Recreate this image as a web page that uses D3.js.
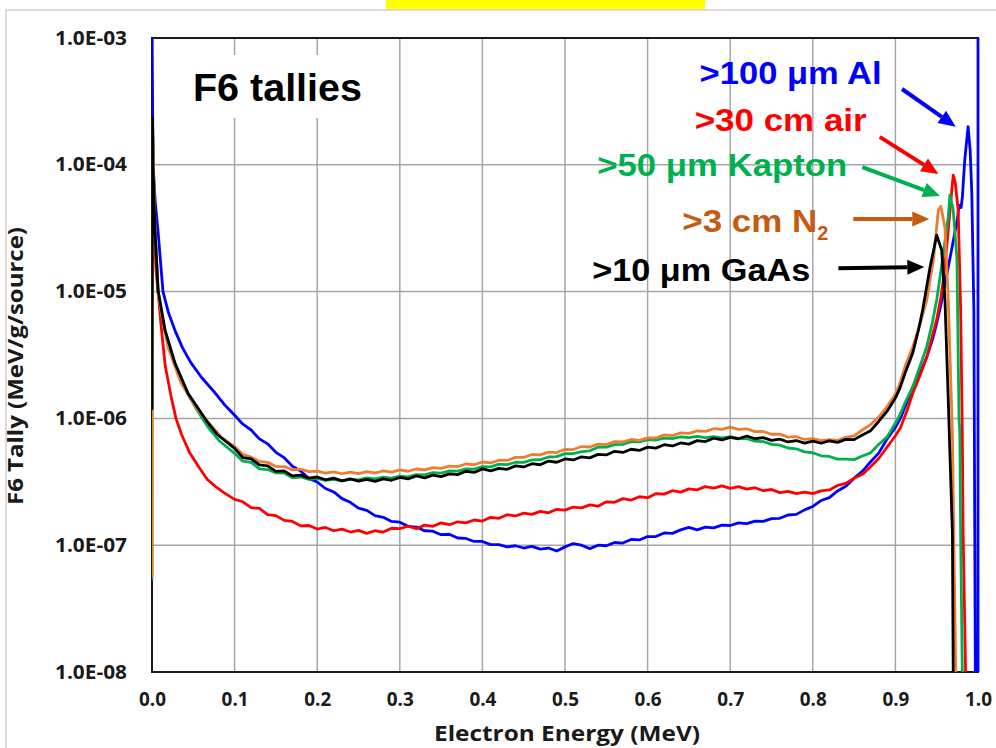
<!DOCTYPE html>
<html>
<head>
<meta charset="utf-8">
<script src="https://cdn.jsdelivr.net/npm/d3@7"></script>
<style>
  html, body { margin: 0; padding: 0; background: #ffffff; }
  svg { display: block; }
</style>
</head>
<body>
<svg id="chart" width="996" height="748"></svg>
<script>
// ---------------- DATA ----------------
const energyTicks = [0.0, 0.1, 0.2, 0.3, 0.4, 0.5, 0.6, 0.7, 0.8, 0.9, 1.0];
const energyTickLabels = ["0.0","0.1","0.2","0.3","0.4","0.5","0.6","0.7","0.8","0.9","1.0"];
const tallyTicks = [1e-3, 1e-4, 1e-5, 1e-6, 1e-7, 1e-8];
const tallyTickLabels = ["1.0E-03","1.0E-04","1.0E-05","1.0E-06","1.0E-07","1.0E-08"];

const seriesNames = [">100 \u03bcm Al", ">30 cm air", ">50 \u03bcm Kapton", ">3 cm N", ">10 \u03bcm GaAs"];

// [energy MeV, F6 tally MeV/g/source]
const alData = [[0,1.5e-3],[0.0012,1.0e-4],[0.004,5.0e-5],[0.0073,3.0e-5],[0.0133,1.0e-5],[0.02,6.8e-6],[0.028,4.9e-6],[0.037,3.6e-6],[0.047,2.75e-6],[0.06,2.1e-6],[0.076,1.6e-6],[0.087,1.3e-6],
[0.10,1.06e-6],[0.11,9.0e-7],[0.12,8.1e-7],[0.13,6.9e-7],[0.14,6.3e-7],[0.15,5.4e-7],[0.16,4.9e-7],[0.17,4.2e-7],[0.18,3.85e-7],[0.19,3.35e-7],[0.20,3.15e-7],[0.21,2.8e-7],[0.22,2.63e-7],[0.23,2.33e-7],[0.24,2.18e-7],[0.25,1.96e-7],[0.26,1.88e-7],[0.27,1.71e-7],[0.28,1.66e-7],[0.29,1.54e-7],[0.30,1.52e-7],[0.31,1.41e-7],[0.32,1.39e-7],[0.33,1.3e-7],[0.34,1.29e-7],[0.35,1.21e-7],[0.36,1.22e-7],[0.37,1.14e-7],[0.38,1.13e-7],[0.39,1.07e-7],[0.40,1.07e-7],[0.41,1.01e-7],[0.42,1.01e-7],[0.43,9.7e-8],[0.44,9.9e-8],[0.45,9.5e-8],[0.46,9.8e-8],[0.47,9.3e-8],[0.48,9.5e-8],[0.49,9.0e-8],[0.50,9.7e-8],[0.51,1.03e-7],[0.52,1.0e-7],[0.53,9.4e-8],[0.54,1.0e-7],[0.55,9.9e-8],[0.56,1.05e-7],[0.57,1.04e-7],[0.58,1.11e-7],[0.59,1.1e-7],[0.60,1.17e-7],[0.61,1.17e-7],[0.62,1.25e-7],[0.63,1.24e-7],[0.64,1.32e-7],[0.65,1.38e-7],[0.66,1.32e-7],[0.67,1.39e-7],[0.68,1.37e-7],[0.69,1.44e-7],[0.70,1.43e-7],[0.71,1.5e-7],[0.72,1.48e-7],[0.73,1.55e-7],[0.74,1.54e-7],[0.75,1.62e-7],[0.76,1.63e-7],[0.77,1.73e-7],[0.78,1.75e-7],[0.79,1.9e-7],[0.80,2.02e-7],[0.81,2.25e-7],[0.82,2.37e-7],[0.83,2.68e-7],[0.84,2.92e-7],[0.85,3.38e-7],[0.86,3.82e-7],[0.87,4.55e-7],[0.88,5.35e-7],[0.89,6.9e-7],[0.90,8.5e-7],
[0.906,1.0e-6],[0.914,1.35e-6],[0.921,1.77e-6],[0.93,2.3e-6],[0.938,3.05e-6],[0.945,4.2e-6],[0.950,5.65e-6],[0.955,7.8e-6],[0.958,9.8e-6],[0.964,1.56e-5],[0.97,2.5e-5],[0.975,3.7e-5],[0.977,4.8e-5],[0.9795,4.6e-5],[0.981,5.5e-5],[0.984,1.1e-4],[0.988,2.0e-4],[0.9905,1.3e-4],[0.9925,6e-5],[0.995,7e-6],[0.997,4e-9],[1.0,4e-9],[1.0,1.5e-3]];

const airData = [[0.0006,2.0e-4],[0.0024,4e-5],[0.0048,1.5e-5],[0.0109,5.5e-6],[0.016,2.6e-6],[0.023,1.5e-6],[0.029,1.0e-6],[0.036,7.4e-7],[0.046,5.3e-7],[0.057,4.1e-7],[0.067,3.3e-7],[0.077,2.9e-7],[0.087,2.6e-7],
[0.10,2.3e-7],[0.11,2.2e-7],[0.12,1.98e-7],[0.13,1.95e-7],[0.14,1.74e-7],[0.15,1.71e-7],[0.16,1.57e-7],[0.17,1.54e-7],[0.18,1.42e-7],[0.19,1.43e-7],[0.20,1.34e-7],[0.21,1.38e-7],[0.22,1.3e-7],[0.23,1.34e-7],[0.24,1.27e-7],[0.25,1.31e-7],[0.26,1.24e-7],[0.27,1.3e-7],[0.28,1.27e-7],[0.29,1.36e-7],[0.30,1.35e-7],[0.31,1.41e-7],[0.32,1.35e-7],[0.33,1.44e-7],[0.34,1.41e-7],[0.35,1.5e-7],[0.36,1.45e-7],[0.37,1.53e-7],[0.38,1.5e-7],[0.39,1.58e-7],[0.40,1.55e-7],[0.41,1.66e-7],[0.42,1.63e-7],[0.43,1.74e-7],[0.44,1.7e-7],[0.45,1.79e-7],[0.46,1.75e-7],[0.47,1.85e-7],[0.48,1.8e-7],[0.49,1.92e-7],[0.50,1.89e-7],[0.51,2.0e-7],[0.52,1.97e-7],[0.53,2.08e-7],[0.54,2.03e-7],[0.55,2.2e-7],[0.56,2.18e-7],[0.57,2.33e-7],[0.58,2.27e-7],[0.59,2.41e-7],[0.60,2.37e-7],[0.61,2.55e-7],[0.62,2.53e-7],[0.63,2.69e-7],[0.64,2.62e-7],[0.65,2.78e-7],[0.66,2.73e-7],[0.67,2.9e-7],[0.68,2.82e-7],[0.69,2.94e-7],[0.70,2.81e-7],[0.71,2.9e-7],[0.72,2.77e-7],[0.73,2.84e-7],[0.74,2.69e-7],[0.75,2.75e-7],[0.76,2.6e-7],[0.77,2.66e-7],[0.78,2.55e-7],[0.79,2.62e-7],[0.80,2.55e-7],[0.81,2.68e-7],[0.82,2.73e-7],[0.83,2.96e-7],[0.84,3.07e-7],[0.85,3.37e-7],[0.86,3.62e-7],[0.87,4.15e-7],[0.88,4.85e-7],[0.89,5.95e-7],[0.90,7.3e-7],
[0.906,8.4e-7],[0.914,1.15e-6],[0.921,1.58e-6],[0.93,2.2e-6],[0.938,3.05e-6],[0.944,4.3e-6],[0.950,6.0e-6],[0.955,9e-6],[0.958,1.23e-5],[0.962,2.2e-5],[0.965,3.6e-5],[0.968,6.0e-5],[0.970,8.3e-5],[0.9725,7.2e-5],[0.976,4.4e-5],[0.979,7.2e-6],[0.981,7.7e-7],[0.982,1.25e-7],[0.985,1e-8],[0.986,4e-9]];

const kaptonData = [[0,5.3e-8],[0.0006,2.1e-4],[0.0018,9.5e-5],[0.0036,3.1e-5],[0.0073,1.0e-5],[0.0157,4.9e-6],[0.0278,2.7e-6],[0.0436,1.55e-6],[0.055,1.15e-6],[0.068,8.5e-7],[0.082,6.6e-7],
[0.10,5.3e-7],[0.11,4.6e-7],[0.12,4.5e-7],[0.13,4.0e-7],[0.14,3.95e-7],[0.15,3.72e-7],[0.16,3.7e-7],[0.17,3.4e-7],[0.18,3.45e-7],[0.19,3.3e-7],[0.20,3.37e-7],[0.21,3.24e-7],[0.22,3.31e-7],[0.23,3.22e-7],[0.24,3.31e-7],[0.25,3.27e-7],[0.26,3.4e-7],[0.27,3.33e-7],[0.28,3.44e-7],[0.29,3.38e-7],[0.30,3.5e-7],[0.31,3.46e-7],[0.32,3.6e-7],[0.33,3.58e-7],[0.34,3.73e-7],[0.35,3.7e-7],[0.36,3.85e-7],[0.37,3.84e-7],[0.38,4.0e-7],[0.39,3.98e-7],[0.40,4.16e-7],[0.41,4.15e-7],[0.42,4.36e-7],[0.43,4.32e-7],[0.44,4.51e-7],[0.45,4.5e-7],[0.46,4.71e-7],[0.47,4.72e-7],[0.48,4.96e-7],[0.49,5.0e-7],[0.50,5.28e-7],[0.51,5.27e-7],[0.52,5.47e-7],[0.53,5.55e-7],[0.54,5.92e-7],[0.55,5.94e-7],[0.56,6.22e-7],[0.57,6.24e-7],[0.58,6.55e-7],[0.59,6.53e-7],[0.60,6.8e-7],[0.61,6.75e-7],[0.62,7.0e-7],[0.63,6.93e-7],[0.64,7.16e-7],[0.65,7.05e-7],[0.66,7.23e-7],[0.67,7.06e-7],[0.68,7.18e-7],[0.69,7.03e-7],[0.70,7.18e-7],[0.71,6.93e-7],[0.72,6.92e-7],[0.73,6.61e-7],[0.74,6.57e-7],[0.75,6.24e-7],[0.76,6.16e-7],[0.77,5.84e-7],[0.78,5.76e-7],[0.79,5.44e-7],[0.80,5.36e-7],[0.81,5.07e-7],[0.82,5.01e-7],[0.83,4.77e-7],[0.84,4.77e-7],[0.85,4.73e-7],[0.86,5.05e-7],[0.87,5.35e-7],[0.88,6.25e-7],[0.89,7.15e-7],[0.90,9.2e-7],
[0.905,1.05e-6],[0.911,1.3e-6],[0.921,1.77e-6],[0.93,2.6e-6],[0.938,3.7e-6],[0.945,5.8e-6],[0.950,8.6e-6],[0.954,1.3e-5],[0.958,2.0e-5],[0.962,3.1e-5],[0.964,3.9e-5],[0.966,5.8e-5],[0.970,4.4e-5],[0.9745,1.8e-5],[0.977,1e-6],[0.978,7.7e-7],[0.979,1.2e-7],[0.981,1e-8],[0.983,4e-9]];

const n2Data = [[0,5.6e-8],[0.0006,2.2e-4],[0.0018,1.0e-4],[0.0036,3.2e-5],[0.0079,9.0e-6],[0.0194,3.66e-6],[0.0351,1.9e-6],[0.0557,1.16e-6],[0.0835,7.13e-7],
[0.10,6.0e-7],[0.11,5.2e-7],[0.12,4.95e-7],[0.13,4.58e-7],[0.14,4.5e-7],[0.15,4.18e-7],[0.16,4.17e-7],[0.17,3.93e-7],[0.18,3.98e-7],[0.19,3.8e-7],[0.20,3.84e-7],[0.21,3.7e-7],[0.22,3.78e-7],[0.23,3.66e-7],[0.24,3.77e-7],[0.25,3.67e-7],[0.26,3.8e-7],[0.27,3.71e-7],[0.28,3.85e-7],[0.29,3.77e-7],[0.30,3.92e-7],[0.31,3.83e-7],[0.32,3.99e-7],[0.33,3.92e-7],[0.34,4.09e-7],[0.35,4.03e-7],[0.36,4.21e-7],[0.37,4.17e-7],[0.38,4.37e-7],[0.39,4.31e-7],[0.40,4.53e-7],[0.41,4.46e-7],[0.42,4.68e-7],[0.43,4.66e-7],[0.44,4.93e-7],[0.45,4.92e-7],[0.46,5.19e-7],[0.47,5.15e-7],[0.48,5.42e-7],[0.49,5.38e-7],[0.50,5.7e-7],[0.51,5.68e-7],[0.52,6.0e-7],[0.53,5.95e-7],[0.54,6.26e-7],[0.55,6.22e-7],[0.56,6.56e-7],[0.57,6.52e-7],[0.58,6.82e-7],[0.59,6.72e-7],[0.60,7.02e-7],[0.61,7.01e-7],[0.62,7.42e-7],[0.63,7.31e-7],[0.64,7.68e-7],[0.65,7.61e-7],[0.66,7.98e-7],[0.67,7.9e-7],[0.68,8.29e-7],[0.69,8.2e-7],[0.70,8.52e-7],[0.71,8.2e-7],[0.72,8.28e-7],[0.73,7.86e-7],[0.74,7.88e-7],[0.75,7.5e-7],[0.76,7.52e-7],[0.77,7.12e-7],[0.78,7.17e-7],[0.79,6.82e-7],[0.80,6.92e-7],[0.81,6.67e-7],[0.82,6.81e-7],[0.83,6.72e-7],[0.84,7.1e-7],[0.85,7.28e-7],[0.86,8.1e-7],[0.87,8.93e-7],[0.88,1.03e-6],[0.89,1.24e-6],[0.90,1.55e-6],
[0.905,1.85e-6],[0.912,2.6e-6],[0.921,3.66e-6],[0.93,5.6e-6],[0.938,8.6e-6],[0.946,1.77e-5],[0.952,4.4e-5],[0.955,4.7e-5],[0.960,3.2e-5],[0.964,8.6e-6],[0.969,7.7e-7],[0.973,1e-8],[0.975,4e-9]];

const gaasData = [[0,1.17e-6],[0.0006,2.34e-4],[0.0012,1.0e-4],[0.0036,3.06e-5],[0.0073,1.03e-5],[0.0157,4.98e-6],[0.0278,2.73e-6],[0.0436,1.58e-6],[0.0678,9.2e-7],[0.0787,7.5e-7],
[0.10,5.8e-7],[0.11,4.9e-7],[0.12,4.8e-7],[0.13,4.3e-7],[0.14,4.22e-7],[0.15,3.82e-7],[0.16,3.85e-7],[0.17,3.52e-7],[0.18,3.57e-7],[0.19,3.38e-7],[0.20,3.45e-7],[0.21,3.28e-7],[0.22,3.38e-7],[0.23,3.22e-7],[0.24,3.33e-7],[0.25,3.2e-7],[0.26,3.31e-7],[0.27,3.19e-7],[0.28,3.33e-7],[0.29,3.25e-7],[0.30,3.42e-7],[0.31,3.33e-7],[0.32,3.52e-7],[0.33,3.4e-7],[0.34,3.57e-7],[0.35,3.47e-7],[0.36,3.65e-7],[0.37,3.6e-7],[0.38,3.83e-7],[0.39,3.75e-7],[0.40,4.0e-7],[0.41,3.85e-7],[0.42,4.03e-7],[0.43,3.97e-7],[0.44,4.22e-7],[0.45,4.14e-7],[0.46,4.39e-7],[0.47,4.31e-7],[0.48,4.61e-7],[0.49,4.51e-7],[0.50,4.79e-7],[0.51,4.7e-7],[0.52,4.98e-7],[0.53,4.88e-7],[0.54,5.2e-7],[0.55,5.15e-7],[0.56,5.5e-7],[0.57,5.39e-7],[0.58,5.71e-7],[0.59,5.59e-7],[0.60,5.94e-7],[0.61,5.83e-7],[0.62,6.2e-7],[0.63,6.06e-7],[0.64,6.4e-7],[0.65,6.27e-7],[0.66,6.68e-7],[0.67,6.57e-7],[0.68,6.99e-7],[0.69,6.76e-7],[0.70,7.09e-7],[0.71,6.91e-7],[0.72,7.26e-7],[0.73,6.91e-7],[0.74,7.06e-7],[0.75,6.71e-7],[0.76,6.86e-7],[0.77,6.52e-7],[0.78,6.69e-7],[0.79,6.39e-7],[0.80,6.63e-7],[0.81,6.37e-7],[0.82,6.65e-7],[0.83,6.47e-7],[0.84,6.83e-7],[0.85,6.8e-7],[0.86,7.4e-7],[0.87,8.0e-7],[0.88,9.5e-7],[0.89,1.14e-6],[0.90,1.45e-6],
[0.905,1.7e-6],[0.912,2.3e-6],[0.921,3.28e-6],[0.928,5.0e-6],[0.933,7.16e-6],[0.942,1.56e-5],[0.950,2.79e-5],[0.956,2.13e-5],[0.960,8.6e-6],[0.964,1.4e-6],[0.969,1.25e-7],[0.970,1e-8],[0.972,4e-9]];

// annotation anchors in data units: label start [E, value] and arrow [E0, v0, E1, v1]
const labelAnchors = [[0.663, 4.34e-4], [0.657, 1.85e-4], [0.539, 8.16e-5], [0.642, 2.95e-5], [0.533, 1.21e-5]];
const arrowAnchors = [[0.908, 3.96e-4, 0.973, 2.0e-4], [0.881, 1.66e-4, 0.952, 8.46e-5], [0.860, 9.6e-5, 0.954, 5.68e-5], [0.849, 3.74e-5, 0.941, 3.74e-5], [0.831, 1.53e-5, 0.935, 1.56e-5]];

// ---------------- STYLE / LAYOUT ----------------
const lineColors = ["#0000ff", "#ff0000", "#00b050", "#ed7d31", "#000000"];
const labelColors = ["#0000ff", "#ff0000", "#00b050", "#c55a11", "#000000"];
const labelWidths = [182, 172, 250, 135, 218];
const axisFont = "'Open Sans', sans-serif";
const labelFont = "'Liberation Sans', Arial, sans-serif";

const svg = d3.select("#chart");
const plot = {left: 152, right: 978, top: 38, bottom: 672};

const x = d3.scaleLinear().domain([0, 1]).range([plot.left, plot.right]);
const y = d3.scaleLog().domain([1e-8, 1e-3]).range([plot.bottom, plot.top]);

// slide decoration
svg.append("rect").attr("x", 386).attr("y", -2).attr("width", 319).attr("height", 11).attr("fill", "#ffff00");
svg.append("path").attr("d", "M6,748 V10 H996").attr("fill", "none").attr("stroke", "#cfcfcf").attr("stroke-width", 1.5);

// gridlines
const grid = svg.append("g");
grid.selectAll("line.v").data(energyTicks.filter(d => d > 0 && d < 1)).join("line")
  .attr("x1", d => x(d)).attr("x2", d => x(d)).attr("y1", plot.top).attr("y2", plot.bottom)
  .attr("stroke", "#a6a6a6").attr("stroke-width", 1.5);
grid.selectAll("line.h").data(tallyTicks.filter(d => d < 1e-3 && d > 1e-8)).join("line")
  .attr("x1", plot.left).attr("x2", plot.right).attr("y1", d => y(d)).attr("y2", d => y(d))
  .attr("stroke", "#a6a6a6").attr("stroke-width", 1.5);

// title box (white background hides the gridlines)
svg.append("rect").attr("x", 178).attr("y", 55).attr("width", 200).attr("height", 63).attr("fill", "#ffffff");

// frame
svg.append("rect").attr("x", plot.left).attr("y", plot.top)
  .attr("width", plot.right - plot.left).attr("height", plot.bottom - plot.top)
  .attr("fill", "none").attr("stroke", "#1a1a1a").attr("stroke-width", 2);

// axes
const xAxis = d3.axisBottom(x).tickValues(energyTicks).tickFormat((d, i) => energyTickLabels[i]).tickSize(0).tickPadding(20);
const gx = svg.append("g").attr("transform", `translate(0,${plot.bottom})`).call(xAxis);
gx.select(".domain").remove();
gx.selectAll("text").attr("font-family", axisFont).attr("font-weight", "bold").attr("font-size", 20).attr("fill", "#1a1a1a")
  .attr("textLength", 27).attr("lengthAdjust", "spacingAndGlyphs");

const yAxis = d3.axisLeft(y).tickValues(tallyTicks).tickFormat((d, i) => tallyTickLabels[i]).tickSize(0).tickPadding(25);
const gy = svg.append("g").attr("transform", `translate(${plot.left},0)`).call(yAxis);
gy.select(".domain").remove();
gy.selectAll("text").attr("font-family", axisFont).attr("font-weight", "bold").attr("font-size", 19).attr("fill", "#1a1a1a")
  .attr("textLength", 72).attr("lengthAdjust", "spacingAndGlyphs");

svg.append("text").attr("x", 567).attr("y", 741).attr("text-anchor", "middle")
  .attr("font-family", axisFont).attr("font-weight", "bold").attr("font-size", 21).attr("fill", "#1a1a1a")
  .attr("textLength", 266).attr("lengthAdjust", "spacingAndGlyphs")
  .text("Electron Energy (MeV)");
svg.append("text").attr("transform", "translate(23,366) rotate(-90)").attr("text-anchor", "middle")
  .attr("font-family", axisFont).attr("font-weight", "bold").attr("font-size", 21).attr("fill", "#1a1a1a")
  .attr("textLength", 278).attr("lengthAdjust", "spacingAndGlyphs")
  .text("F6 Tally (MeV/g/source)");

// curves
svg.append("clipPath").attr("id", "clip").append("rect")
  .attr("x", plot.left).attr("y", plot.top).attr("width", plot.right - plot.left + 2).attr("height", plot.bottom - plot.top);
const line = d3.line().x(d => x(d[0])).y(d => y(Math.max(d[1], 1e-9)));
const allSeries = [alData, airData, kaptonData, n2Data, gaasData];
const curves = svg.append("g").attr("clip-path", "url(#clip)");
curves.selectAll("path").data(allSeries).join("path")
  .attr("d", line).attr("fill", "none")
  .attr("stroke", (d, i) => lineColors[i]).attr("stroke-width", 2.8)
  .attr("stroke-linejoin", "round");

// "F6 tallies"
svg.append("text").attr("x", x(0.0496)).attr("y", y(3.18e-4))
  .attr("font-family", labelFont).attr("font-weight", "bold").attr("font-size", 38)
  .attr("textLength", 169).attr("lengthAdjust", "spacingAndGlyphs").attr("fill", "#000")
  .text("F6 tallies");

// series labels
const labels = svg.append("g");
seriesNames.forEach((name, i) => {
  const t = labels.append("text").attr("x", x(labelAnchors[i][0])).attr("y", y(labelAnchors[i][1]))
    .attr("font-family", labelFont).attr("font-weight", "bold").attr("font-size", 31)
    .attr("fill", labelColors[i]);
  if (i === 3) {
    t.append("tspan").attr("textLength", labelWidths[i]).attr("lengthAdjust", "spacingAndGlyphs").text(name);
    t.append("tspan").attr("font-size", 20).attr("dy", 8).text("2");
  } else {
    t.attr("textLength", labelWidths[i]).attr("lengthAdjust", "spacingAndGlyphs").text(name);
  }
});

// arrows
const arrows = svg.append("g");
arrowAnchors.forEach((a, i) => {
  const x0 = x(a[0]), y0 = y(a[1]), x1 = x(a[2]), y1 = y(a[3]);
  const ang = Math.atan2(y1 - y0, x1 - x0);
  const headLen = 17, headHalf = 7.5;
  const bx = x1 - headLen * Math.cos(ang), by = y1 - headLen * Math.sin(ang);
  arrows.append("line").attr("x1", x0).attr("y1", y0).attr("x2", bx).attr("y2", by)
    .attr("stroke", labelColors[i]).attr("stroke-width", 4);
  const px = -Math.sin(ang) * headHalf, py = Math.cos(ang) * headHalf;
  arrows.append("path")
    .attr("d", `M${x1},${y1}L${bx + px},${by + py}L${bx - px},${by - py}Z`)
    .attr("fill", labelColors[i]);
});
</script>
</body>
</html>
